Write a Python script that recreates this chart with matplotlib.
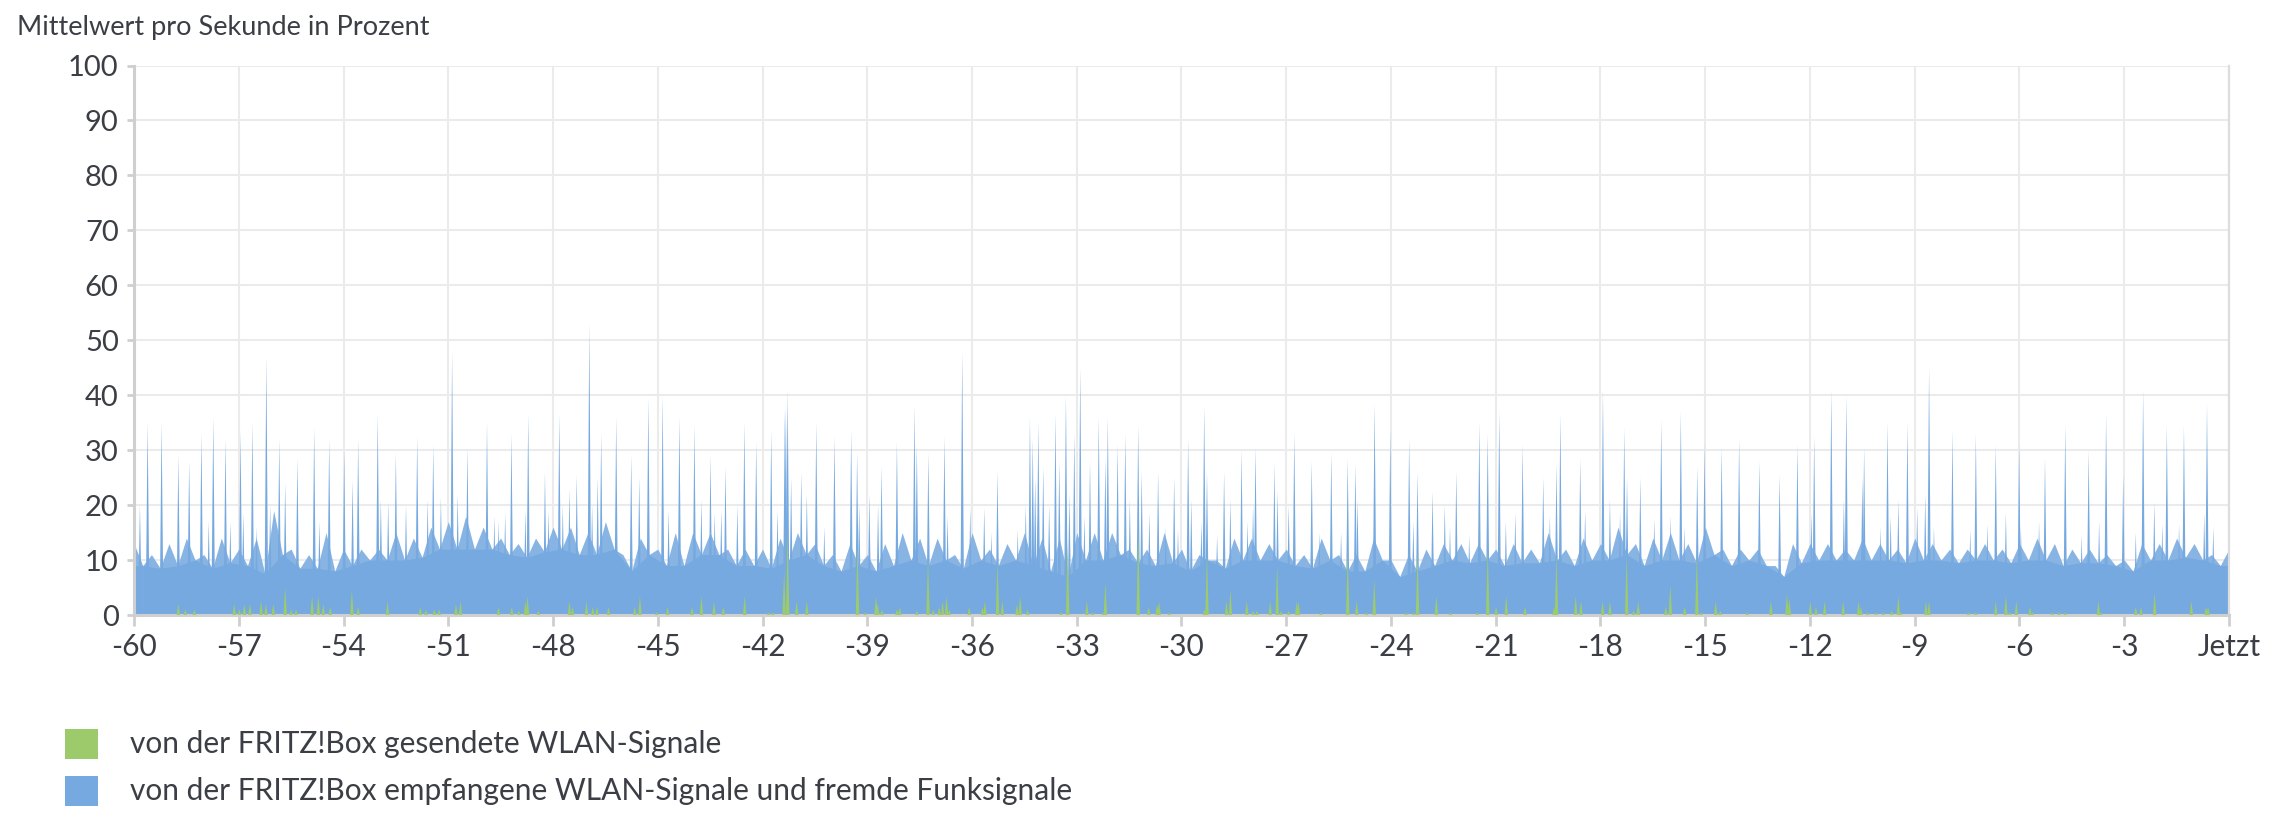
import numpy as np
import matplotlib
matplotlib.use("Agg")
from matplotlib import pyplot as plt
from matplotlib.patches import Rectangle

# Upper edge (top) and dips (floor) of the dense part of the blue area, every 30 s
body_t = np.arange(-60, 0.01, 0.5)
body_top = [13, 11, 13, 14, 11, 14, 12, 14, 19, 12, 11, 15, 12, 12, 12, 15, 14, 16, 17, 18,
            16, 14, 13, 14, 16, 16, 15, 17, 11, 14, 12, 15, 15, 15, 12, 12, 12, 14, 15, 13,
            11, 13, 11, 13, 15, 14, 14, 11, 15, 12, 13, 15, 14, 14, 15, 15, 15, 12, 12, 15,
            12, 11, 10, 14, 14, 13, 12, 11, 14, 11, 11, 14, 10, 11, 12, 13, 13, 13, 12, 13,
            12, 15, 12, 14, 13, 16, 13, 14, 15, 13, 16, 12, 12, 12, 9, 13, 13, 13, 12, 14,
            13, 12, 14, 13, 12, 12, 13, 12, 13, 14, 13, 12, 12, 11, 10, 13, 13, 14, 13, 11, 12]
body_floor = [9, 8.5, 9, 10, 8.5, 9.5, 9, 7.5, 11, 8.5, 8.5, 8, 9, 10, 10, 10, 10.5, 12, 12, 12,
              12, 11, 10.5, 11.5, 12, 11, 11, 12, 8, 11, 9, 9, 11, 11, 9, 9, 8.5, 10, 11, 9,
              8, 9, 8, 9, 10, 9, 10, 8.5, 10, 9, 10, 9, 8, 7, 10, 10, 11, 9.5, 9, 9.5,
              8, 10, 8.5, 10, 10, 10, 9, 8.5, 10, 8, 8, 10, 7, 8, 9, 10, 9.5, 10, 9, 9.5,
              9.5, 10, 9, 10, 10, 11, 9, 10, 10, 9.5, 11, 9, 10, 9, 7, 9.5, 10, 10, 10, 10,
              10, 9.5, 10, 10, 9.5, 10, 10, 9.5, 10, 10, 9, 9.5, 9.5, 9, 8, 10, 10, 10.5, 10, 9]

# Single peaks of the blue series (minutes, percent)
spike_t = [-59.83, -59.61, -59.21, -58.73, -58.42, -58.07, -57.86, -57.73, -57.38, -57.24,
           -56.95, -56.87, -56.61, -56.49, -56.21, -56.10, -55.84, -55.67, -55.32, -54.84,
           -54.69, -54.41, -53.98, -53.74, -53.58, -53.02, -52.93, -52.72, -52.50, -52.21,
           -51.89, -51.59, -51.43, -51.21, -50.89, -50.73, -50.45,
           -49.89, -49.68, -49.56, -49.37, -49.19, -48.79, -48.71, -48.23, -48.13, -47.82,
           -47.72, -47.53, -47.32, -46.96, -46.88, -46.72, -46.62, -46.19, -45.76, -45.53,
           -45.27, -44.86, -44.69, -44.38, -43.95, -43.75, -43.49, -43.37, -43.18, -43.06,
           -42.72, -42.52, -42.18, -41.75, -41.57, -41.36, -41.33, -41.28, -41.18, -40.89,
           -40.73, -40.46, -40.23,
           -39.94, -39.46, -39.29, -39.23, -38.94, -38.69, -38.59, -38.15, -37.65, -37.58,
           -37.25, -36.79, -36.70, -36.28, -36.05, -35.65, -35.44, -35.27, -34.69, -34.46,
           -34.34, -34.26, -34.19, -34.12, -34.10, -33.96, -33.79, -33.61, -33.50, -33.31,
           -33.21, -33.07, -32.90, -32.78, -32.62, -32.37, -32.18, -32.11, -31.83, -31.61,
           -31.48, -31.24, -31.14, -30.92, -30.67, -30.45, -30.21,
           -30.10, -29.81, -29.72, -29.43, -29.35, -29.27, -28.98, -28.78, -28.60, -28.28,
           -28.11, -27.95, -27.88, -27.34, -27.25, -26.93, -26.77, -26.27, -26.05, -25.71,
           -25.43, -25.24, -25.02, -24.96, -24.47, -24.02, -23.48, -23.36, -23.24, -22.81,
           -22.46, -22.31, -22.13, -21.76, -21.47, -21.23, -20.90, -20.71, -20.44, -20.23,
           -19.64, -19.45, -19.26, -19.15, -18.58, -18.44, -17.93, -17.73, -17.44, -17.32,
           -17.24, -16.86, -16.46, -16.26, -16.00, -15.70, -15.60, -15.23, -15.02, -14.53,
           -14.03, -13.45, -12.87, -12.36, -11.96, -11.88, -11.39, -11.03, -10.96, -10.50,
           -10.45,
           -9.98, -9.78, -9.69, -9.47, -9.21, -8.93, -8.70, -8.59, -8.45, -7.92,
           -7.41, -7.25, -6.92, -6.68, -6.39, -6.01, -5.96, -5.44, -5.27, -4.69,
           -4.22, -4.02, -3.72, -3.52, -3.03, -2.67, -2.46, -2.14, -1.91, -1.78,
           -1.43, -1.29, -0.71, -0.63, -0.45]
spike_v = [20, 35, 35, 29, 28, 33, 17, 36, 32, 17,
           33.5, 18.5, 35, 16, 47, 20, 32, 24, 28.5, 34,
           17, 32, 30, 24.5, 32, 36.5, 21, 20.5, 29.5, 20,
           32.5, 21, 31, 21.5, 48, 22, 30.5,
           35, 18, 17, 18.5, 33, 19, 36.5, 26, 19, 36.5,
           20, 23, 25.5, 53, 20, 25, 33, 36, 29, 25,
           39.5, 40, 19, 36, 34.5, 21, 29, 18.5, 19, 27,
           20, 35, 31.5, 33.5, 19, 37, 38, 41, 25, 26,
           22, 35, 16,
           32.5, 33.5, 29.5, 20, 22, 20, 27, 31.5, 38, 31,
           29.5, 32.5, 18, 48, 19.5, 19.5, 15, 26, 15.5, 20,
           36, 32, 25, 18, 35, 27, 20, 36.5, 28, 40,
           22, 33, 45, 18, 28, 36, 28.5, 36, 31, 33,
           21, 34.5, 26, 18.5, 26, 16, 25,
           15.5, 32, 21, 17, 38, 26, 14.5, 26, 21, 30,
           17, 20, 30.5, 27.5, 22.5, 20, 33, 28, 15, 29.5,
           15, 28.5, 27.5, 21, 38.5, 33.5, 32, 17, 26, 22.5,
           20, 16, 26, 14.5, 35, 33, 37, 17, 18.5, 31,
           25, 18, 27.5, 36.5, 28.5, 19, 41, 21, 18.5, 34,
           25, 25, 17.5, 35.5, 18, 37, 16, 27, 31, 30.5,
           32, 28, 25.5, 31, 18.5, 32.5, 41, 21, 40, 25,
           30.5,
           16, 35, 18, 21, 35, 19.5, 22, 45, 16, 33.5,
           15.5, 33, 16.5, 31, 18.5, 31, 16, 17, 28.5, 34.5,
           14.5, 30, 17, 36.5, 25.5, 15, 41, 20.5, 16.5, 34.5,
           16.5, 34.5, 18.5, 38.5, 16]

# Green series: only short peaks near the bottom
green_t = [-58.73, -58.53, -58.27, -57.13, -56.98, -56.84, -56.68, -56.36, -56.22, -56.01,
           -55.67, -55.50, -55.36, -54.90, -54.72, -54.58, -54.38, -53.76, -53.58, -52.74,
           -51.80, -51.64, -51.40, -51.26, -50.78, -50.65,
           -49.56, -49.18, -48.98, -48.79, -48.73, -48.42, -47.53, -47.44, -47.04, -46.86,
           -46.74, -46.41, -45.66, -45.51, -45.03, -44.72, -44.02, -43.75, -43.39, -43.12,
           -42.51, -41.83, -41.71, -41.38, -41.28, -41.02, -40.73,
           -39.28, -39.06, -38.75, -38.70, -38.58, -38.15, -38.07, -37.58, -37.11, -37.26,
           -36.94, -36.84, -36.73, -36.65, -36.08, -35.70, -35.63, -35.27, -35.13, -34.71,
           -34.62, -34.41, -33.45, -33.26, -32.71, -32.55, -32.24, -32.18, -31.24, -30.94,
           -30.70, -30.64, -30.35,
           -29.34, -29.27, -28.71, -28.60, -28.13, -27.95, -27.84, -27.46, -27.26, -27.15,
           -26.93, -26.70, -26.65, -26.01, -25.24, -24.98, -24.70, -24.48, -23.57, -23.35,
           -23.24, -22.70, -22.30, -21.53, -21.23, -20.99, -20.70, -20.16,
           -19.33, -19.26, -18.71, -18.56, -17.94, -17.73, -17.25, -17.05, -16.92, -16.13,
           -16.00, -15.59, -15.24, -15.12, -14.70, -14.57, -13.80, -13.12, -12.66, -12.59,
           -11.99, -11.83, -11.58, -11.05, -10.61, -10.54, -10.35,
           -10.11, -9.90, -9.66, -9.47, -9.40, -8.68, -8.59, -7.46, -7.25, -6.68,
           -6.39, -6.28, -6.09, -5.70, -5.63, -5.06, -4.87, -4.69, -3.74, -3.67,
           -2.67, -2.52, -2.13, -1.08, -0.66, -0.60]
green_v = [2, 1, 1, 2, 1, 2, 2, 2.5, 2, 2,
           5, 1, 1, 3.5, 3.5, 2, 1.5, 4.5, 1.5, 2.5,
           1.5, 1, 1, 1, 2, 2.5,
           1.5, 1.5, 0.8, 2.5, 3.5, 0.8, 2.5, 1.5, 2.5, 1.5,
           1.5, 1.5, 1.5, 3.5, 0.5, 1.5, 1.5, 3.5, 2.5, 1.5,
           3.5, 0.5, 0.5, 8, 15, 2.5, 2.5,
           12.5, 0.5, 3.5, 2, 1, 1, 1.5, 0.8, 1, 10,
           1.5, 2.5, 3.5, 1, 1.5, 1.5, 2.5, 9.5, 2.5, 2,
           3.5, 1, 0.5, 13, 2.5, 0.5, 0.5, 6, 15, 1.5,
           2, 2.5, 0.5,
           1, 11, 2.5, 4.5, 2.5, 0.8, 0.8, 2.5, 9, 0.8,
           0.8, 2.5, 2.5, 0.5, 11, 2.5, 0.5, 6.5, 0.5, 0.5,
           11, 3.5, 0.5, 0.5, 12, 1.5, 3.5, 1.5,
           1.5, 11, 3.5, 2.5, 2.5, 2.5, 11, 0.8, 2.5, 1.5,
           5.5, 1.5, 11, 0.5, 2.5, 0.8, 0.5, 2.5, 4, 3,
           2.5, 1.5, 2.5, 2.5, 2.5, 1.5, 0.5,
           0.5, 0.5, 0.8, 3.5, 0.5, 2.5, 2.5, 0.5, 0.5, 2.5,
           3.5, 0.5, 2.5, 1.5, 0.5, 0.5, 0.5, 0.5, 2.5, 0.5,
           1.5, 1.5, 4, 2.5, 1.5, 1.5]

xticks = list(range(-60, 1, 3))
xlabels = [str(v) for v in xticks[:-1]] + ["Jetzt"]
yticks = list(range(0, 101, 10))

blue = "#76a9e0"
blue_fringe = "#88b4e4"
green = "#9dcb6b"
textcol = "#3b3e45"
axiscol = "#cfcfcf"

plt.rcParams["font.family"] = ["Lato", "DejaVu Sans"]

W, H = 2274, 834
fig = plt.figure(figsize=(W / 100, H / 100), dpi=100)
ax = fig.add_axes([134 / W, 1 - 615 / H, (2229 - 134) / W, (615 - 65.5) / H])

# blue body: top values at the sample times, dips half way in between
xs = []
ys = []
for i in range(len(body_t)):
    xs.append(body_t[i])
    ys.append(body_top[i])
    if i < len(body_floor):
        xs.append(body_t[i] + 0.25)
        ys.append(body_floor[i])
# outer (fringe) part a bit lighter, dense part solid
ax.fill_between(xs, 0, ys, color=blue_fringe, lw=0, zorder=2)
ax.fill_between(np.array(body_t[:-1]) + 0.25, 0, body_floor, color=blue, lw=0, zorder=2)
ax.fill_between([-60, -59.75], 0, [body_floor[0], body_floor[0]], color=blue, lw=0, zorder=2)
ax.fill_between([-0.25, 0], 0, [body_floor[-1], body_floor[-1]], color=blue, lw=0, zorder=2)

w = 0.055
for t, v in zip(spike_t, spike_v):
    ax.fill([t - w, t, t + w], [0, v, 0], color=blue, lw=0, zorder=2)

wg = 0.05
for t, v in zip(green_t, green_v):
    ax.fill([t - wg, t, t + wg], [0, v, 0], color=green, lw=0, zorder=3)

ax.set_xlim(-60, 0)
ax.set_ylim(0, 100)
ax.set_xticks(xticks)
ax.set_xticklabels(xlabels)
ax.set_yticks(yticks)
ax.grid(True, color="#ebebeb", lw=1.5, zorder=0)
ax.set_axisbelow(True)

for side in ["left", "bottom"]:
    ax.spines[side].set_color(axiscol)
    ax.spines[side].set_linewidth(2.2)
ax.spines["right"].set_color("#dddddd")
ax.spines["right"].set_linewidth(1.6)
ax.spines["top"].set_visible(False)

ax.tick_params(axis="x", colors=axiscol, labelcolor=textcol, labelsize=21.5,
               length=8, width=2, pad=5)
ax.tick_params(axis="y", colors=axiscol, labelcolor=textcol, labelsize=21,
               length=5, width=2, pad=6)

fig.text(17 / W, 1 - 27 / H, "Mittelwert pro Sekunde in Prozent", color=textcol,
         fontsize=19.5, va="center", ha="left")

# legend
legend_rows = [(744, green, "von der FRITZ!Box gesendete WLAN-Signale"),
               (791, blue, "von der FRITZ!Box empfangene WLAN-Signale und fremde Funksignale")]
for yc, col, label in legend_rows:
    fig.patches.append(Rectangle((65 / W, 1 - (yc + 15) / H), 33 / W, 30 / H,
                                 transform=fig.transFigure, color=col, lw=0))
    fig.text(130 / W, 1 - yc / H, label, color=textcol, fontsize=21.5,
             va="center", ha="left")

fig.savefig("out.png", dpi=100)
